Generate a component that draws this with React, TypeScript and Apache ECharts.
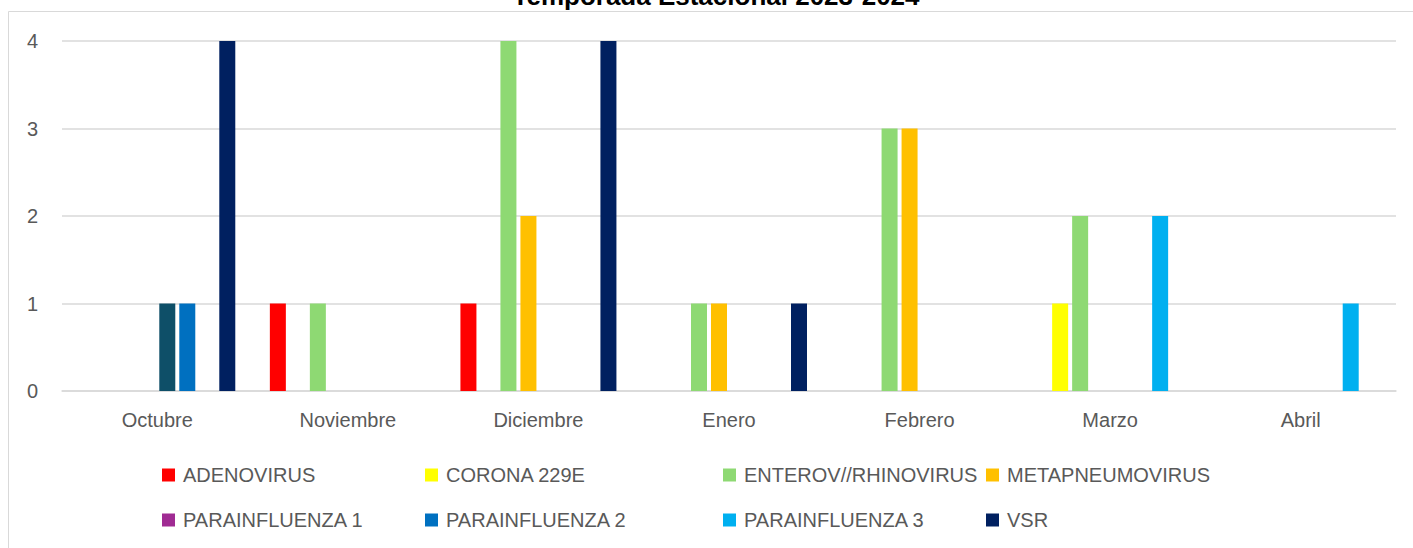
import React, { useEffect, useRef } from "react";
import * as echarts from "echarts";

const months = ["Octubre", "Noviembre", "Diciembre", "Enero", "Febrero", "Marzo", "Abril"];
const seriesNames = [
  "ADENOVIRUS",
  "CORONA 229E",
  "ENTEROV//RHINOVIRUS",
  "METAPNEUMOVIRUS",
  "PARAINFLUENZA 1",
  "PARAINFLUENZA 2",
  "PARAINFLUENZA 3",
  "VSR",
];
const seriesColors = ["#FF0000", "#FFFF00", "#8ED973", "#FFC000", "#A02B93", "#0070C0", "#00B0F0", "#002060"];
const adenovirus = [0, 1, 1, 0, 0, 0, 0];
const corona = [0, 0, 0, 0, 0, 1, 0];
const enterov = [0, 1, 4, 1, 3, 2, 0];
const metapneumo = [0, 0, 2, 1, 3, 0, 0];
const para1 = [1, 0, 0, 0, 0, 0, 0];
const para2 = [1, 0, 0, 0, 0, 0, 0];
const para3 = [0, 0, 0, 0, 0, 2, 1];
const vsr = [4, 0, 4, 1, 0, 0, 0];
const seriesValues = [adenovirus, corona, enterov, metapneumo, para1, para2, para3, vsr];
// Octubre point of PARAINFLUENZA 1 has its own colour in the source chart
const pointOverrides: Record<string, Record<number, string>> = {
  "PARAINFLUENZA 1": { 0: "#0E4F68" },
};
const yTicks = [0, 1, 2, 3, 4];
const titleText = "Temporada Estacional 2023-2024";

const FONT = "'Liberation Sans', Arial, sans-serif";
const GRAY = "#595959";

export default function App() {
  const ref = useRef<HTMLDivElement>(null);
  useEffect(() => {
    if (!ref.current) return;
    const chart = echarts.init(ref.current, undefined, { renderer: "svg" });
    const legendCols = [162, 425, 723, 986];
    const legends = legendCols.map((x, i) => ({
      data: [seriesNames[i], seriesNames[i + 4]],
      orient: "vertical",
      left: x,
      top: 465,
      itemWidth: 13,
      itemHeight: 13,
      itemGap: 25,
      icon: "rect",
      selectedMode: false,
      padding: 0,
      textStyle: { fontFamily: FONT, fontSize: 20, color: GRAY, lineHeight: 20, padding: [0, 0, 0, 3] },
    }));
    chart.setOption({
      animation: false,
      backgroundColor: "#ffffff",
      textStyle: { fontFamily: FONT },
      graphic: [
        {
          type: "rect",
          shape: { x: 8.5, y: 11.5, width: 1600, height: 800 },
          style: { fill: "none", stroke: "#D9D9D9", lineWidth: 1 },
          silent: true,
        },
        {
          type: "text",
          x: 716,
          y: 9,
          style: {
            text: titleText,
            fontFamily: FONT,
            fontWeight: "bold",
            fontSize: 26,
            fill: "#000000",
            align: "center",
            verticalAlign: "bottom",
          },
        },
      ],
      legend: legends,
      grid: { left: 62, right: 17, top: 41, bottom: 157, containLabel: false },
      xAxis: {
        type: "category",
        data: months,
        axisLine: { show: true, lineStyle: { color: "#D9D9D9", width: 1.5 } },
        axisTick: { show: false },
        axisLabel: { color: GRAY, fontSize: 20, fontFamily: FONT, margin: 19 },
      },
      yAxis: {
        type: "value",
        min: yTicks[0],
        max: yTicks[yTicks.length - 1],
        interval: 1,
        axisLine: { show: false },
        axisTick: { show: false },
        axisLabel: { color: GRAY, fontSize: 20, fontFamily: FONT, margin: 24 },
        splitLine: { lineStyle: { color: "#D9D9D9", width: 1.5 } },
      },
      series: seriesNames.map((name, i) => ({
        name,
        type: "bar",
        barWidth: 16,
        barGap: "25%",
        itemStyle: { color: seriesColors[i] },
        data: seriesValues[i].map((v, j) => {
          const c = pointOverrides[name] && pointOverrides[name][j];
          return c ? { value: v, itemStyle: { color: c } } : v;
        }),
      })),
    });
    return () => chart.dispose();
  }, []);
  return (
    <div
      ref={ref}
      style={{ position: "fixed", left: 0, top: 0, width: 1413, height: 548, background: "#fff" }}
    />
  );
}
